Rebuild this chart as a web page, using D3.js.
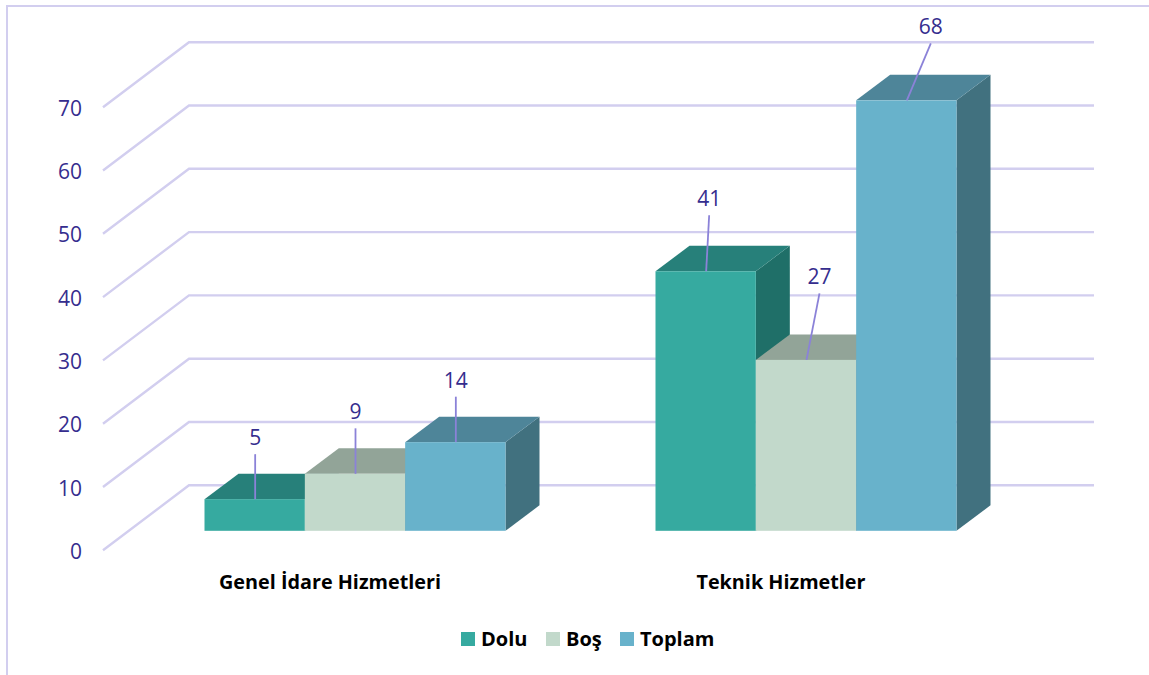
<!DOCTYPE html>
<html>
<head>
<meta charset="utf-8">
<script src="https://cdn.jsdelivr.net/npm/d3@7"></script>
<style>
html, body { margin: 0; padding: 0; background: #fff; }
svg { display: block; }
text { font-family: "Open Sans", sans-serif; }
</style>
</head>
<body>
<svg id="chart" width="1149" height="675"></svg>
<script>
var categories = ["Genel İdare Hizmetleri", "Teknik Hizmetler"];
var seriesNames = ["Dolu", "Boş", "Toplam"];
var dolu = [5, 41];
var bos = [9, 27];
var toplam = [14, 68];
var yTicks = [0, 10, 20, 30, 40, 50, 60, 70];

var seriesValues = [dolu, bos, toplam];
var frontColors = ["#36aaa0", "#c2d9cb", "#68b2cb"];
var topColors = ["#27807a", "#92a498", "#4e8599"];
var sideColors = ["#1f6f68", "#7f9085", "#41717f"];

var gridColor = "#d2ceef";
var textColor = "#352d8e";
var leaderColor = "#8b82d8";

var svg = d3.select("#chart");

// front plane of the bars, the axis and the wall are the same scale shifted in depth
var x0 = d3.scaleBand().domain(categories).range([129.5, 1031.5]).paddingInner(0.3326).paddingOuter(0.1663);
var x1 = d3.scaleBand().domain(seriesNames).range([0, x0.bandwidth()]);
var y = d3.scaleLinear().domain([0, 70]).range([530.8, 87.7]);

var barDepth = { x: 34, y: -25.5 };
var axisShift = { x: -102, y: 19.5 };   // from bar plane to axis labels side
var wallShift = { x: -16, y: -45.5 };   // from bar plane to back wall
var wallRight = 1094;

// frame
svg.append("path")
    .attr("d", "M7,675V6H1149")
    .attr("fill", "none")
    .attr("stroke", gridColor)
    .attr("stroke-width", 2);

// grid
var grid = svg.append("g").selectAll("path").data(yTicks).enter().append("path")
    .attr("fill", "none")
    .attr("stroke", gridColor)
    .attr("stroke-width", 2.4)
    .attr("d", function(d) {
        var p = d3.path();
        p.moveTo(x0.range()[0] + axisShift.x + 75.5, y(d) + axisShift.y);
        p.lineTo(x0.range()[0] + 59.5, y(d) + wallShift.y);
        p.lineTo(wallRight, y(d) + wallShift.y);
        return p.toString();
    });

// axis labels
svg.append("g").selectAll("text").data(yTicks).enter().append("text")
    .attr("x", 82)
    .attr("y", function(d) { return y(d) + axisShift.y + 8.5; })
    .attr("text-anchor", "end")
    .attr("font-size", 21)
    .attr("fill", textColor)
    .text(function(d) { return d; });

// bars
var groups = svg.append("g").selectAll("g").data(categories).enter().append("g")
    .attr("transform", function(d) { return "translate(" + x0(d) + ",0)"; });

var bars = groups.selectAll("g").data(function(c, ci) {
    return seriesNames.map(function(s, si) {
        return { series: s, si: si, value: seriesValues[si][ci] };
    });
}).enter().append("g");

function poly(points) {
    return "M" + points.join("L") + "Z";
}

bars.append("path")
    .attr("fill", function(d) { return sideColors[d.si]; })
    .attr("d", function(d) {
        var r = x1(d.series) + x1.bandwidth(), t = y(d.value), b = y(0);
        return poly([[r, t], [r + barDepth.x, t + barDepth.y], [r + barDepth.x, b + barDepth.y], [r, b]]);
    });

bars.append("path")
    .attr("fill", function(d) { return topColors[d.si]; })
    .attr("d", function(d) {
        var l = x1(d.series), r = l + x1.bandwidth(), t = y(d.value);
        return poly([[l, t], [l + barDepth.x, t + barDepth.y], [r + barDepth.x, t + barDepth.y], [r, t]]);
    });

bars.append("rect")
    .attr("x", function(d) { return x1(d.series); })
    .attr("y", function(d) { return y(d.value); })
    .attr("width", x1.bandwidth())
    .attr("height", function(d) { return y(0) - y(d.value); })
    .attr("fill", function(d) { return frontColors[d.si]; });

// data labels with leader lines, hand placed like in the original
var leaders = [
    [{ dx: 0.5, dy: -45 }, { dx: 0.5, dy: -45.5 }, { dx: 0.5, dy: -45.5 }],
    [{ dx: 3.5, dy: -56 }, { dx: 13.5, dy: -66.5 }, { dx: 24.5, dy: -57 }]
];

var labels = svg.append("g");
categories.forEach(function(c, ci) {
    seriesNames.forEach(function(s, si) {
        var v = seriesValues[si][ci];
        var bx = x0(c) + x1(s) + x1.bandwidth() / 2;
        var by = y(v);
        var l = leaders[ci][si];
        labels.append("line")
            .attr("x1", bx + 0.5)
            .attr("y1", by)
            .attr("x2", bx + l.dx)
            .attr("y2", by + l.dy)
            .attr("stroke", leaderColor)
            .attr("stroke-width", 1.8);
        labels.append("text")
            .attr("x", bx + l.dx)
            .attr("y", by + l.dy - 9)
            .attr("text-anchor", "middle")
            .attr("font-size", 21)
            .attr("fill", textColor)
            .text(v);
    });
});

// category labels
svg.append("g").selectAll("text").data(categories).enter().append("text")
    .attr("x", function(d) { return x0(d) + x0.bandwidth() / 2 - 25; })
    .attr("y", 589)
    .attr("text-anchor", "middle")
    .attr("font-size", 19.8)
    .attr("font-weight", 700)
    .attr("fill", "#000")
    .text(function(d) { return d; });

// legend
var legendX = [461, 546, 620];
var legend = svg.append("g").selectAll("g").data(seriesNames).enter().append("g")
    .attr("transform", function(d, i) { return "translate(" + legendX[i] + ",632)"; });

legend.append("rect")
    .attr("width", 14)
    .attr("height", 14)
    .attr("fill", function(d, i) { return frontColors[i]; });

legend.append("text")
    .attr("x", 20)
    .attr("y", 14)
    .attr("font-size", 20)
    .attr("font-weight", 700)
    .attr("fill", "#000")
    .text(function(d) { return d; });
</script>
</body>
</html>
